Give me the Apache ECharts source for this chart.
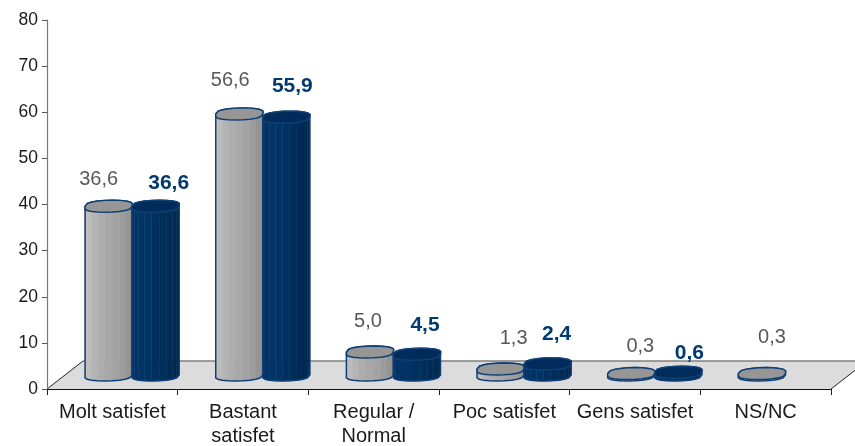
<!DOCTYPE html>
<html>
<head>
<meta charset="utf-8">
<style>html,body{margin:0;padding:0;background:#fff}#c{width:855px;height:446px}</style>
<script src="https://cdn.jsdelivr.net/npm/echarts@6/dist/echarts.min.js"></script>
</head>
<body>
<div id="c"></div>
<script>
const categories = ['Molt satisfet', 'Bastant\nsatisfet', 'Regular /\nNormal', 'Poc satisfet', 'Gens satisfet', 'NS/NC'];
const greyValues = [36.6, 56.6, 5.0, 1.3, 0.3, 0.3];
const blueValues = [36.6, 55.9, 4.5, 2.4, 0.6, null];
const yTicks = { min: 0, max: 80, interval: 10 };

// hand-placed label nudges of the original, relative to each bar top (layout, not data)
const greyLabelNudge = [[-10,-27],[-9,-33],[-2,-30],[13,-31],[9,-27],[10,-36]];
const blueLabelNudge = [[13,-23],[6,-31],[8,-29],[9,-30],[11,-19],[0,0]];

const greyStrips = ['#bdbdbd','#c2c2c2','#bcbcbc','#b4b4b4','#adadad','#a8a8a8','#a3a3a3','#9c9c9c','#959595','#8f8f8f'];
const blueStrips = ['#003366','#003366','#003366','#003366','#003366','#00305f','#002e5b','#002b56','#002a52','#00274c'];
const DEPTH_X = 36, DEPTH_Y = 28;

function ringPoint(cx, cy, rx, ry, t) {
  const s = Math.sin(t);
  return [cx + rx * Math.cos(t) - 4 * s, cy + ry * Math.sign(s) * Math.pow(Math.abs(s), 0.65)];
}

function cylinder(api, params, values, strips, capFill, side, nudges, labelStyle) {
  const i = params.dataIndex;
  const v = values[i];
  if (v === null) return null;
  const band = api.size([1, 0])[0];
  const rx = band * 0.18;
  const ry = 6;
  const top = api.coord([i, v]);
  const base = api.coord([i, 0]);
  const cx = base[0] + DEPTH_X * 0.55 + side * band * 0.18;
  const cyBase = base[1] - DEPTH_Y * 0.5;
  const cyTop = top[1] - DEPTH_Y * 0.5;
  const children = [];
  const n = strips.length;
  for (let k = 0; k < n; k++) {
    const a = Math.PI - Math.PI * k / n;
    const b = Math.PI - Math.PI * (k + 1) / n;
    children.push({
      type: 'polygon',
      shape: { points: [ringPoint(cx, cyTop, rx, ry, a), ringPoint(cx, cyTop, rx, ry, b), ringPoint(cx, cyBase, rx, ry, b), ringPoint(cx, cyBase, rx, ry, a)] },
      style: { fill: strips[k], stroke: strips[k], lineWidth: 0.5 }
    });
  }
  const outline = [];
  for (let k = 0; k <= n; k++) outline.push(ringPoint(cx, cyBase, rx, ry, Math.PI - Math.PI * k / n));
  for (let k = 0; k <= n; k++) outline.push(ringPoint(cx, cyTop, rx, ry, -Math.PI * k / n));
  children.push({ type: 'polygon', shape: { points: outline }, style: { fill: 'none', stroke: '#0f3f74', lineWidth: 1.5 } });
  const cap = [];
  for (let k = 0; k < 2 * n; k++) cap.push(ringPoint(cx, cyTop, rx, ry, Math.PI * k / n));
  children.push({ type: 'polygon', shape: { points: cap }, style: { fill: capFill, stroke: '#0f3f74', lineWidth: 1.5 } });
  const nudge = nudges[i];
  children.push({
    type: 'text',
    style: Object.assign({
      text: v.toFixed(1).replace('.', ','),
      x: cx + nudge[0], y: cyTop + nudge[1],
      align: 'center', verticalAlign: 'middle',
      fontFamily: '"Liberation Sans", Arial, sans-serif'
    }, labelStyle)
  });
  return { type: 'group', children };
}

const chart = echarts.init(document.getElementById('c'), null, { renderer: 'canvas' });
chart.setOption({
  animation: false,
  backgroundColor: '#fff',
  grid: { left: 47, right: 24, top: 20, bottom: 57, containLabel: false, outerBoundsMode: 'none' },
  xAxis: {
    type: 'category',
    data: categories,
    boundaryGap: true,
    z: 5,
    axisLine: { show: true, lineStyle: { color: '#111', width: 1.2 } },
    axisTick: { show: true, length: 6, alignWithLabel: false, lineStyle: { color: '#222', width: 1 } },
    axisLabel: {
      interval: 0, margin: 11, color: '#1a1a1a', fontSize: 20, lineHeight: 24,
      hideOverlap: false,
      fontFamily: '"Liberation Sans", Arial, sans-serif'
    }
  },
  yAxis: {
    type: 'value',
    min: yTicks.min, max: yTicks.max, interval: yTicks.interval,
    z: 5,
    splitLine: { show: false },
    axisLine: { show: true, lineStyle: { color: '#777', width: 1.2 } },
    axisTick: { show: true, length: 5, lineStyle: { color: '#555', width: 1 } },
    axisLabel: {
      margin: 9, color: '#1a1a1a', fontSize: 17.5,
      fontFamily: '"Liberation Sans", Arial, sans-serif'
    }
  },
  series: [
    {
      type: 'custom', clip: false, silent: true, z: 1,
      data: [0],
      renderItem(params, api) {
        const g = params.coordSys;
        const bottom = g.y + g.height, right = g.x + g.width;
        return {
          type: 'group',
          children: [
            { type: 'polygon', shape: { points: [[g.x, bottom], [g.x + DEPTH_X, bottom - DEPTH_Y], [right + DEPTH_X, bottom - DEPTH_Y], [right, bottom]] }, style: { fill: '#dcdcdc', stroke: 'none' } },
            { type: 'line', shape: { x1: g.x + DEPTH_X, y1: bottom - DEPTH_Y, x2: right + DEPTH_X, y2: bottom - DEPTH_Y }, style: { stroke: '#7f7f7f', lineWidth: 1.6 } },
            { type: 'line', shape: { x1: g.x, y1: bottom, x2: g.x + DEPTH_X, y2: bottom - DEPTH_Y }, style: { stroke: '#222', lineWidth: 1 } },
            { type: 'line', shape: { x1: right, y1: bottom, x2: right + DEPTH_X, y2: bottom - DEPTH_Y }, style: { stroke: '#222', lineWidth: 1 } }
          ]
        };
      }
    },
    {
      type: 'custom', clip: false, silent: true, z: 2,
      data: greyValues.map((v, i) => [i, v]),
      renderItem(params, api) {
        return cylinder(api, params, greyValues, greyStrips, '#969696', -1, greyLabelNudge,
          { fill: '#595959', fontSize: 20 });
      }
    },
    {
      type: 'custom', clip: false, silent: true, z: 3,
      data: blueValues.map((v, i) => [i, v === null ? 0 : v]),
      renderItem(params, api) {
        return cylinder(api, params, blueValues, blueStrips, '#002c5c', 1, blueLabelNudge,
          { fill: '#003a70', fontSize: 21, fontWeight: 'bold' });
      }
    }
  ]
});
</script>
</body>
</html>
